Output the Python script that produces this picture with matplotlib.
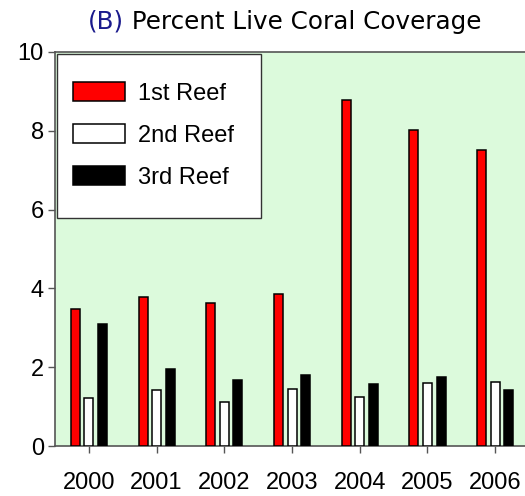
import matplotlib
matplotlib.use("Agg")
import matplotlib.pyplot as plt
from matplotlib.patches import Rectangle
from matplotlib.transforms import offset_copy
import numpy as np

years = ["2000", "2001", "2002", "2003", "2004", "2005", "2006"]
reef1 = [3.47, 3.77, 3.63, 3.87, 8.77, 8.02, 7.51]
reef2 = [1.23, 1.41, 1.12, 1.44, 1.25, 1.61, 1.63]
reef3 = [3.09, 1.95, 1.68, 1.79, 1.57, 1.75, 1.43]
labels = ["1st Reef", "2nd Reef", "3rd Reef"]
colors = ["#ff0000", "#ffffff", "#000000"]

plt.rcParams['font.family'] = ['Liberation Sans', 'DejaVu Sans']

fig = plt.figure(figsize=(5.25, 4.96), dpi=100)
ax = fig.add_axes([0.1048, 0.1008, 0.8952, 0.7944])
ax.set_facecolor("#dcfadc")

x = np.arange(len(years))
w = 0.133
off = 0.2
for i, (vals, lab, c) in enumerate(zip([reef1, reef2, reef3], labels, colors)):
    ax.bar(x + (i - 1) * off, vals, width=w, color=c, edgecolor="black",
           linewidth=1.1, label=lab, zorder=3)

ax.set_xlim(-0.5, 6.44)
ax.set_ylim(0, 10)
ax.set_yticks([0, 2, 4, 6, 8, 10])
ax.set_xticks(x)
ax.set_xticklabels(years)
ax.tick_params(axis="both", labelsize=17, color="#555555", length=5, width=1)
ax.tick_params(axis="x", pad=14)
ax.tick_params(axis="y", pad=3)
for s in ["left", "bottom", "top"]:
    ax.spines[s].set_color("#555555")
    ax.spines[s].set_linewidth(1.2)
ax.spines["right"].set_visible(False)

# legend frame
ax.add_patch(Rectangle((0.004, 0.579), 0.434, 0.416, transform=ax.transAxes,
                       facecolor="white", edgecolor="#333333", linewidth=1.0,
                       zorder=4))
leg = ax.legend(loc="upper left", bbox_to_anchor=(0.0138, 0.953), fontsize=17,
                frameon=False, handlelength=2.2, handleheight=0.85,
                labelspacing=0.82, borderpad=0.5, handletextpad=0.55,
                borderaxespad=0)
leg.set_zorder(5)

# title with colored "(B)"
fig.canvas.draw()
renderer = fig.canvas.get_renderer()
target_w = 394
fs = 16
t1 = fig.text(0, 0, "(B)", fontsize=fs, family="DejaVu Sans")
t2 = fig.text(0, 0, " Percent Live Coral Coverage", fontsize=fs, family="DejaVu Sans")
w_tot = t1.get_window_extent(renderer).width + t2.get_window_extent(renderer).width
t1.remove(); t2.remove()
fs = fs * target_w / w_tot
tb = fig.text(88 / 525, 1 - 22 / 496, "(B)", color="#1a1a8c", fontsize=fs,
              family="DejaVu Sans", ha="left", va="center")
fig.canvas.draw()
bw = tb.get_window_extent(renderer).width
tt = fig.text(88 / 525, 1 - 22 / 496, " Percent Live Coral Coverage", color="black",
              fontsize=fs, family="DejaVu Sans", ha="left", va="center")
tt.set_transform(offset_copy(fig.transFigure, fig=fig, x=bw, y=0, units="dots"))

fig.savefig("out.png", dpi=100)
